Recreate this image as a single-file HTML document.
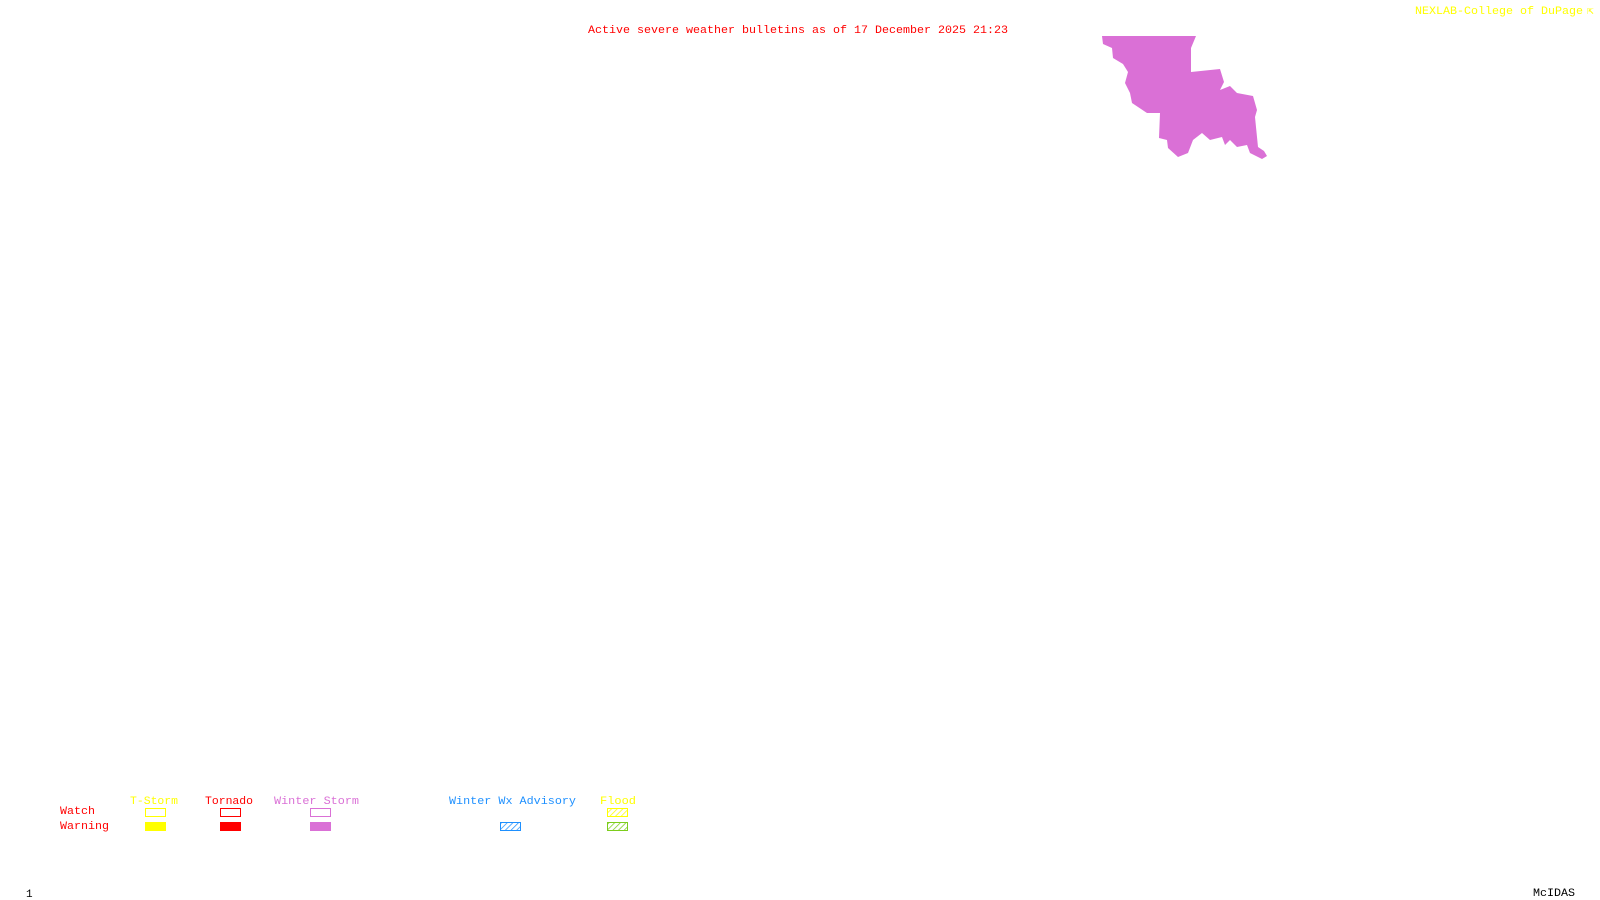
<!DOCTYPE html>
<html><head><meta charset="utf-8"><style>
html,body{margin:0;padding:0;background:#fff;width:1600px;height:900px;overflow:hidden}
svg{display:block}
text{font-family:"Liberation Mono","DejaVu Sans Mono",monospace;font-size:11px}
</style></head><body>
<svg width="1600" height="900" viewBox="0 0 1600 900" xmlns="http://www.w3.org/2000/svg">
<defs>
<pattern id="hb" width="4" height="4" patternUnits="userSpaceOnUse" patternTransform="rotate(45)"><rect width="4" height="4" fill="#fff"/><line x1="0" y1="0" x2="0" y2="4" stroke="#1e90ff" stroke-width="1.5"/></pattern>
<pattern id="hy" width="4" height="4" patternUnits="userSpaceOnUse" patternTransform="rotate(45)"><rect width="4" height="4" fill="#fff"/><line x1="0" y1="0" x2="0" y2="4" stroke="#ffff00" stroke-width="1.5"/></pattern>
<pattern id="hg" width="4" height="4" patternUnits="userSpaceOnUse" patternTransform="rotate(45)"><rect width="4" height="4" fill="#fff"/><line x1="0" y1="0" x2="0" y2="4" stroke="#7ccd1c" stroke-width="1.5"/></pattern>
</defs>
<text x="588" y="33" fill="#ff0000" textLength="420" lengthAdjust="spacingAndGlyphs">Active severe weather bulletins as of 17 December 2025 21:23</text>
<text x="1415" y="14" fill="#ffff00" textLength="168" lengthAdjust="spacingAndGlyphs">NEXLAB-College of DuPage</text>
<text x="1587" y="14" fill="#ffff00">⇱</text>
<polygon fill="#da70d6" points="1102,36 1196,36 1191,48 1191,72 1220,69 1224,82 1220,90 1230,86 1237,93 1253,96 1257,110 1255,117 1258,147 1264,151 1267,156 1262,159 1250,153 1247,145 1237,147 1230,140 1225,145 1222,137 1210,140 1202,133 1193,140 1188,153 1178,157 1168,148 1167,140 1159,138 1160,113 1147,113 1138,107 1132,103 1130,93 1125,83 1128,72 1123,64 1113,58 1112,48 1103,44"/>
<text x="130" y="804" fill="#ffff00" textLength="48" lengthAdjust="spacingAndGlyphs">T-Storm</text>
<text x="205" y="804" fill="#ff0000" textLength="48" lengthAdjust="spacingAndGlyphs">Tornado</text>
<text x="274" y="804" fill="#da70d6" textLength="85" lengthAdjust="spacingAndGlyphs">Winter Storm</text>
<text x="449" y="804" fill="#1e90ff" textLength="127" lengthAdjust="spacingAndGlyphs">Winter Wx Advisory</text>
<text x="600" y="804" fill="#ffff00" textLength="36" lengthAdjust="spacingAndGlyphs">Flood</text>
<text x="60" y="814" fill="#ff0000" textLength="35" lengthAdjust="spacingAndGlyphs">Watch</text>
<text x="60" y="829" fill="#ff0000" textLength="49" lengthAdjust="spacingAndGlyphs">Warning</text>
<rect x="145.5" y="808.5" width="20" height="8" fill="none" stroke="#ffff00" stroke-width="1"/>
<rect x="145" y="822" width="21" height="9" fill="#ffff00"/>
<rect x="220.5" y="808.5" width="20" height="8" fill="none" stroke="#ff0000" stroke-width="1"/>
<rect x="220" y="822" width="21" height="9" fill="#ff0000"/>
<rect x="310.5" y="808.5" width="20" height="8" fill="none" stroke="#da70d6" stroke-width="1"/>
<rect x="310" y="822" width="21" height="9" fill="#da70d6"/>
<rect x="500.5" y="822.5" width="20" height="8" fill="url(#hb)" stroke="#1e90ff" stroke-width="1"/>
<rect x="607.5" y="808.5" width="20" height="8" fill="url(#hy)" stroke="#ffff00" stroke-width="1"/>
<rect x="607.5" y="822.5" width="20" height="8" fill="url(#hg)" stroke="#7ccd1c" stroke-width="1"/>
<text x="26" y="897" fill="#000">1</text>
<text x="1533" y="896" fill="#000" textLength="42" lengthAdjust="spacingAndGlyphs">McIDAS</text>
</svg>
</body></html>
